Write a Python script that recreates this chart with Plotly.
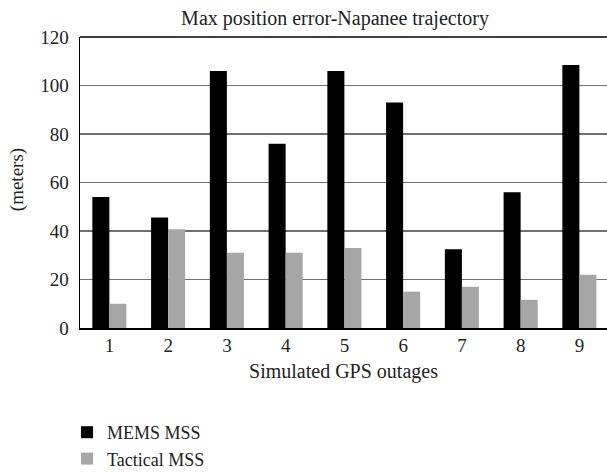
import plotly.graph_objects as go

categories = ["1", "2", "3", "4", "5", "6", "7", "8", "9"]
mems_mss = [54, 45.6, 106, 76, 106, 93, 32.5, 56, 108.5]
tactical_mss = [10, 40.7, 31, 31, 33, 15, 17, 11.6, 22]
y_ticks = [0, 20, 40, 60, 80, 100, 120]

FONT = "Liberation Serif"
TXT = "#222222"

fig = go.Figure()
fig.add_trace(go.Bar(x=categories, y=mems_mss, name="MEMS MSS",
                     marker=dict(color="#000000", line=dict(width=0))))
fig.add_trace(go.Bar(x=categories, y=tactical_mss, name="Tactical MSS",
                     marker=dict(color="#a6a6a6", line=dict(width=0))))

fig.update_layout(
    width=607, height=472,
    margin=dict(l=80, r=0, t=37, b=144, autoexpand=False),
    paper_bgcolor="white", plot_bgcolor="white",
    font=dict(family=FONT, size=19, color=TXT),
    barmode="group", bargap=0.42, bargroupgap=0,
    title=dict(text="Max position error-Napanee trajectory",
               x=335/607, xanchor="center", xref="container",
               y=1 - 18/472, yanchor="middle", yref="container",
               font=dict(family=FONT, size=20, color=TXT)),
    xaxis=dict(
        type="category", range=[-0.5, 8.47],
        showline=True, linecolor="#000000", linewidth=1.5,
        showgrid=False, zeroline=False, ticks="", tickfont=dict(size=19),
        title=dict(text="Simulated GPS outages", font=dict(size=20), standoff=8),
    ),
    yaxis=dict(
        range=[0, 120], tickvals=y_ticks,
        showline=True, linecolor="#000000", linewidth=1.5,
        showgrid=True, gridcolor="#707070", gridwidth=1.3,
        zeroline=False, ticks="", tickfont=dict(size=19),
        ticklabelstandoff=6,
    ),
    shapes=[dict(type="line", xref="paper", yref="paper", x0=0, x1=1.01, y0=1, y1=1,
                 line=dict(color="#000000", width=1.5))],
    annotations=[dict(text="(meters)", textangle=-90, showarrow=False,
                      xref="paper", x=0, xanchor="center", xshift=-63,
                      yref="paper", y=0.508, yanchor="middle",
                      font=dict(family=FONT, size=19, color=TXT))],
    showlegend=True,
    legend=dict(orientation="v", x=67/607, xref="container", xanchor="left",
                y=1 - 414/472, yref="container", yanchor="top",
                font=dict(family=FONT, size=18, color=TXT),
                bgcolor="rgba(0,0,0,0)", traceorder="normal"),
)

fig.write_html("out.html", config={"displayModeBar": False, "staticPlot": True},
               post_script="document.body.style.margin='0px';"
                           "document.body.style.overflow='hidden';")
